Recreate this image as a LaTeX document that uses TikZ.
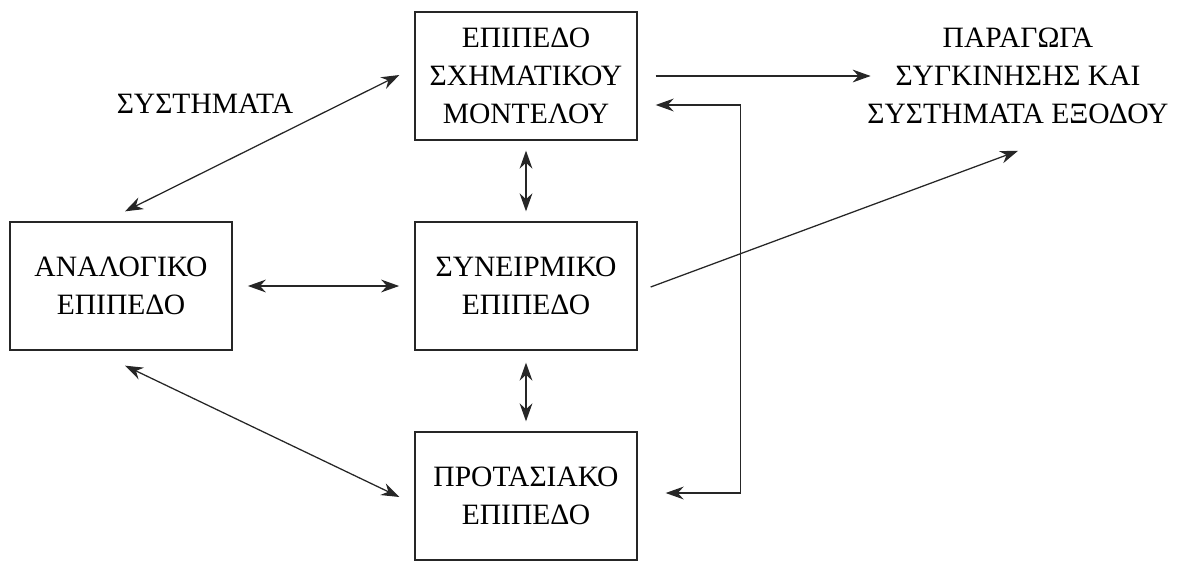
\documentclass[tikz,border=0pt]{standalone}
\usepackage{fontspec}
\setmainfont{Liberation Serif}
\usepackage{tikz}
\usetikzlibrary{positioning, calc, arrows.meta}

\tikzset{
  level/.style={draw=black!85, line width=0.9pt, minimum width=5.55cm, minimum height=3.2cm,
                align=center, font=\fontsize{21}{27}\selectfont},
  lbl/.style={align=center, font=\fontsize{21}{27}\selectfont},
  dbl/.style={{Stealth[length=0.45cm, width=0.32cm]}-{Stealth[length=0.45cm, width=0.32cm]}, draw=black!85, line width=0.9pt},
  sgl/.style={-{Stealth[length=0.45cm, width=0.32cm]}, draw=black!85, line width=0.9pt}
}

\begin{document}
\begin{tikzpicture}[x=0.025cm, y=-0.025cm]
      \useasboundingbox (0,0) rectangle (1177,561);

      \node[level] (schem) at (526,76)  {ΕΠΙΠΕΔΟ\\ΣΧΗΜΑΤΙΚΟΥ\\ΜΟΝΤΕΛΟΥ};
      \node[level] (anal)  at (121,286) {ΑΝΑΛΟΓΙΚΟ\\ΕΠΙΠΕΔΟ};
      \node[level] (syn)   at (526,286) {ΣΥΝΕΙΡΜΙΚΟ\\ΕΠΙΠΕΔΟ};
      \node[level] (prot)  at (526,496) {ΠΡΟΤΑΣΙΑΚΟ\\ΕΠΙΠΕΔΟ};

      \node[lbl] (sys) at (205,104)  {ΣΥΣΤΗΜΑΤΑ};
      \node[lbl] (out) at (1018,76) {ΠΑΡΑΓΩΓΑ\\ΣΥΓΚΙΝΗΣΗΣ ΚΑΙ\\ΣΥΣΤΗΜΑΤΑ ΕΞΟΔΟΥ};

      \coordinate (outin)  at ($ (schem.east) + (233,0) $);   %arrow head left of text
      \coordinate (outlow) at ($ (out.south) + (0,22) $);     %arrow head below text
      \coordinate (fbtop)  at ($ (schem.east) + (18,29) $);
      \coordinate (fbbot)  at ($ (prot.east) + (28,-3) $);

      \draw[sgl] ($ (schem.east) + (18,0) $) -- (outin);   %schematic out
      \draw[sgl] ($ (syn.east) + (13,1) $)   -- (outlow);  %associative out
      \draw[dbl] (fbtop) -- +(85,0) |- (fbbot);            %feedback loop

      \draw[dbl, shorten <=0.25cm, shorten >=0.25cm] (schem.south) -- (syn.north);
      \draw[dbl, shorten <=0.3cm,  shorten >=0.25cm] (syn.south)   -- (prot.north);
      \draw[dbl, shorten <=0.38cm, shorten >=0.38cm] (anal.east)   -- (syn.west);

      \draw[dbl] ($ (anal.north) + (4,-10) $) -- ($ (schem.west) + (-15,-1) $);  %upper diagonal
      \draw[dbl] ($ (anal.south) + (4,15) $)  -- ($ (prot.west) + (-15,1) $);    %lower diagonal
    \end{tikzpicture}
\end{document}
